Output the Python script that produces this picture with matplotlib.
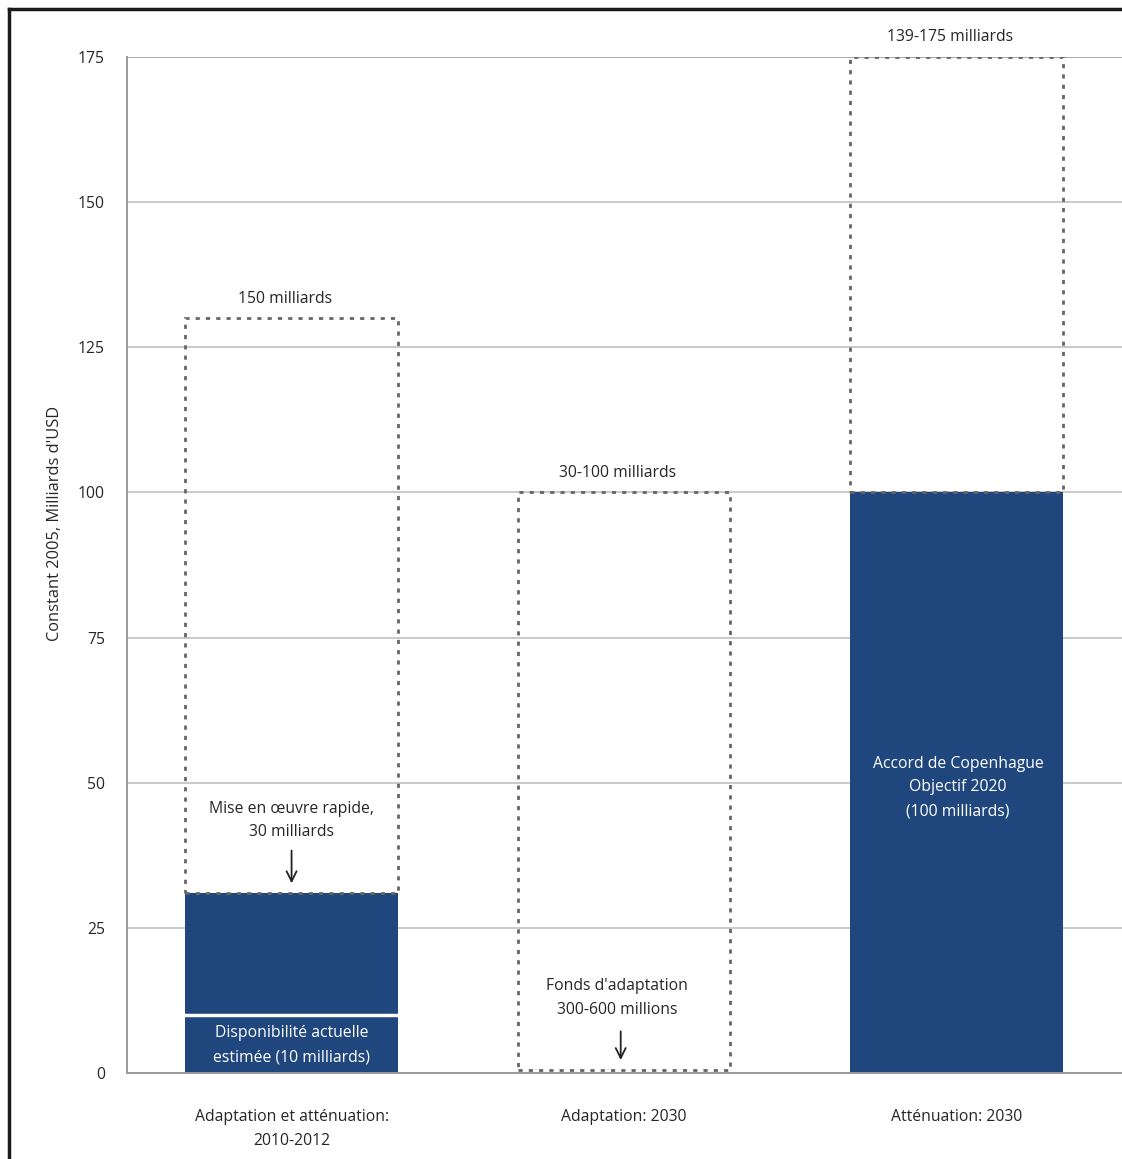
import numpy as np
import matplotlib
matplotlib.use('Agg')
import matplotlib.pyplot as plt
from matplotlib.lines import Line2D

plt.rcParams['font.family'] = ['Open Sans', 'DejaVu Sans']

# data (milliards d'USD)
categories = ['Adaptation et atténuation:\n2010-2012', 'Adaptation: 2030', 'Atténuation: 2030']
solid_values = [31, 0, 100]
current_level = 10          # split inside the first bar
range_low = [31, 0.45, 100]
range_high = [130, 100, 175]
range_labels = ['150 milliards', '30-100 milliards', '139-175 milliards']
y_ticks = [0, 25, 50, 75, 100, 125, 150, 175]

blue = '#1f477d'
dot_grey = '#666666'
txt = '#262626'
fs = 11.3

W, H = 1122, 1159
fig = plt.figure(figsize=(W / 100, H / 100), dpi=100)
fig.patch.set_facecolor('white')

# axes placed in pixel terms
left, right, bottom, top = 127, 1140, 1073, 57
ax = fig.add_axes([left / W, (H - bottom) / H, (right - left) / W, (bottom - top) / H])
ax.set_xlim(-0.495, 2.552)
ax.set_ylim(0, 175)

x = np.arange(len(categories))
width = 0.64

# grid
for yv in y_ticks[1:-1]:
    ax.axhline(yv, color='#c9c9c9', lw=1.4, zorder=0)
ax.axhline(y_ticks[-1], color='#a8a8a8', lw=1.4, zorder=0)

# solid bars
ax.bar(x, solid_values, width, color=blue, zorder=2)
ax.plot([x[0] - width / 2, x[0] + width / 2], [current_level, current_level],
        color='white', lw=2.5, zorder=3)

# dotted range boxes
heights = np.array(range_high) - np.array(range_low)
ax.bar(x, heights, width, bottom=range_low, fill=False, edgecolor=dot_grey,
       linewidth=2.0, linestyle=(0, (1.5, 2.2)), zorder=4)

for xi, hi, lab in zip(x, range_high, range_labels):
    ax.text(xi - 0.02, hi + 3.4, lab, ha='center', va='center', fontsize=fs,
            color=txt, clip_on=False)

# annotations inside bars
ax.text(x[0], 43.5, 'Mise en œuvre rapide,\n30 milliards', ha='center', va='center',
        fontsize=fs, color=txt, linespacing=1.65, zorder=5)
ax.annotate('', xy=(x[0], solid_values[0] + 1.2), xytext=(x[0], solid_values[0] + 7.8),
            arrowprops=dict(arrowstyle='->', lw=1.3, color='#222222', mutation_scale=18), zorder=5)

ax.text(x[0], current_level / 2 - 0.2, 'Disponibilité actuelle\nestimée (10 milliards)',
        ha='center', va='center', fontsize=fs, color='white', linespacing=1.65, zorder=5)

ax.text(x[1] - 0.02, 12.9, "Fonds d'adaptation\n300-600 millions", ha='center', va='center',
        fontsize=fs, color=txt, linespacing=1.65, zorder=5)
ax.annotate('', xy=(x[1] - 0.01, range_low[1] + 1.3), xytext=(x[1] - 0.01, range_low[1] + 7.2),
            arrowprops=dict(arrowstyle='->', lw=1.3, color='#222222', mutation_scale=18), zorder=5)

ax.text(x[2] + 0.005, 49.2, 'Accord de Copenhague\nObjectif 2020\n(100 milliards)',
        ha='center', va='center', fontsize=fs, color='white', linespacing=1.65, zorder=5)

# axes styling
for s in ['top', 'right']:
    ax.spines[s].set_visible(False)
ax.spines['left'].set_color('#9a9a9a')
ax.spines['bottom'].set_color('#9a9a9a')
ax.spines['left'].set_linewidth(1.4)
ax.spines['bottom'].set_linewidth(1.4)

ax.set_yticks(y_ticks)
ax.set_yticklabels([str(v) for v in y_ticks], fontsize=fs, color=txt)
ax.tick_params(axis='y', length=0, pad=16)
ax.set_xticks(x)
ax.set_xticklabels(categories, fontsize=fs, color=txt, linespacing=1.65)
ax.tick_params(axis='x', length=0, pad=26)

fig.text(55 / W, 1 - 523 / H, "Constant 2005, Milliards d'USD", rotation=90,
         ha='center', va='center', fontsize=11.8, color=txt)

# outer frame (left and top edges visible)
fig.add_artist(Line2D([9 / W, 9 / W], [0, 1 - 9 / H], color='#1a1a1a', lw=2.5))
fig.add_artist(Line2D([9 / W, 1], [1 - 9 / H, 1 - 9 / H], color='#1a1a1a', lw=2.5))

fig.savefig('out.png', dpi=100)
